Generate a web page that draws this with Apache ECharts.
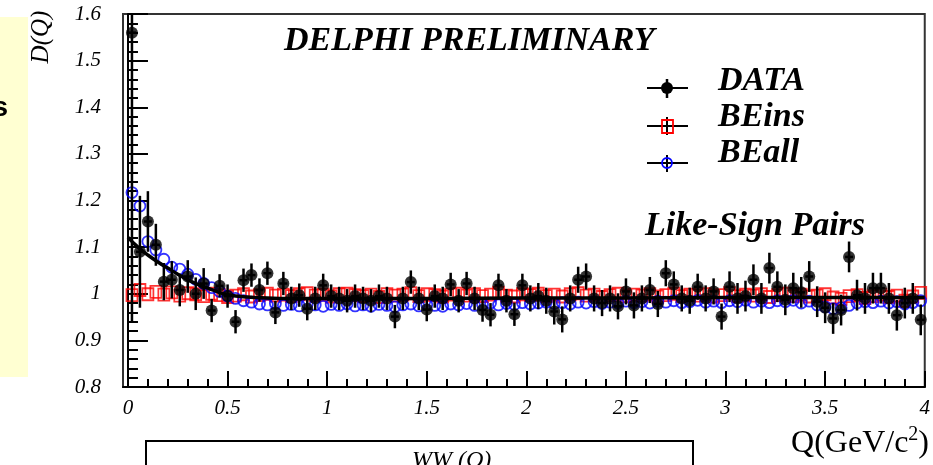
<!DOCTYPE html>
<html>
<head>
<meta charset="utf-8">
<script src="https://cdn.jsdelivr.net/npm/echarts@6/dist/echarts.min.js"></script>
<style>html,body{margin:0;padding:0;background:#fff;}#c{width:933px;height:465px;}</style>
</head>
<body>
<div id="c"></div>
<script>
// Bin centres (GeV/c^2)
const Q_BINS = [0.02,0.06,0.10,0.14,0.18,0.22,0.26,0.30,0.34,0.38,0.42,0.46,0.50,0.54,0.58,0.62,0.66,0.70,0.74,0.78,
0.82,0.86,0.90,0.94,0.98,1.02,1.06,1.10,1.14,1.18,1.22,1.26,1.30,1.34,1.38,1.42,1.46,1.50,1.54,1.58,
1.62,1.66,1.70,1.74,1.78,1.82,1.86,1.90,1.94,1.98,2.02,2.06,2.10,2.14,2.18,2.22,2.26,2.30,2.34,2.38,
2.42,2.46,2.50,2.54,2.58,2.62,2.66,2.70,2.74,2.78,2.82,2.86,2.90,2.94,2.98,3.02,3.06,3.10,3.14,3.18,
3.22,3.26,3.30,3.34,3.38,3.42,3.46,3.50,3.54,3.58,3.62,3.66,3.70,3.74,3.78,3.82,3.86,3.90,3.94,3.98];

const DATA = [1.56,1.09,1.155,1.105,1.026,1.03,1.008,1.037,1.0,1.022,0.964,1.017,0.995,0.94,1.029,1.04,1.008,1.044,0.96,1.022,
0.99,0.997,0.968,0.99,1.018,0.995,0.99,0.985,0.995,0.99,0.985,0.995,0.99,0.951,0.99,1.025,0.99,0.966,0.995,0.99,
1.02,0.985,1.022,0.99,0.965,0.955,1.018,0.985,0.956,1.018,0.99,0.995,0.985,0.962,0.945,0.99,1.03,1.037,0.99,0.98,
0.99,0.973,1.005,0.975,0.99,1.008,0.978,1.044,1.02,0.99,0.985,1.015,0.99,1.005,0.951,1.015,0.99,0.995,1.03,0.99,
1.055,1.015,0.987,1.012,1.003,1.037,0.983,0.97,0.947,0.965,1.079,0.997,0.99,1.012,1.012,0.99,0.954,0.98,0.99,0.944];

const DATA_ERR = [0.62,0.12,0.065,0.045,0.04,0.04,0.035,0.035,0.035,0.033,0.025,0.025,0.025,0.025,0.025,0.025,0.025,0.025,0.025,0.025,
0.025,0.025,0.025,0.025,0.025,0.025,0.025,0.025,0.025,0.025,0.025,0.025,0.025,0.025,0.025,0.025,0.025,0.025,0.025,0.025,
0.025,0.025,0.025,0.025,0.025,0.025,0.025,0.025,0.025,0.025,0.028,0.028,0.028,0.028,0.028,0.028,0.028,0.028,0.028,0.028,
0.028,0.028,0.028,0.028,0.028,0.028,0.028,0.028,0.028,0.028,0.028,0.028,0.028,0.028,0.028,0.033,0.033,0.033,0.033,0.033,
0.033,0.033,0.033,0.033,0.033,0.033,0.033,0.033,0.033,0.033,0.033,0.033,0.033,0.033,0.033,0.033,0.033,0.033,0.033,0.033];

const BEINS = [0.997,1.008,0.999,1.004,0.998,1.003,0.996,1.001,0.999,0.995,1.0,0.997,0.993,0.996,0.999,0.994,0.997,1.0,0.996,0.998,
0.995,0.999,1.001,0.996,0.998,0.994,0.999,1.0,0.997,0.995,0.998,0.993,0.999,0.996,0.998,1.001,0.995,0.999,0.997,0.994,
0.998,1.0,0.996,0.999,0.995,0.998,1.002,0.996,0.994,0.999,0.997,1.0,0.995,0.998,0.994,0.999,1.001,0.996,0.998,0.993,
0.997,1.0,0.995,0.998,0.996,0.999,0.994,0.997,1.0,0.995,0.998,0.996,0.999,0.994,0.997,1.001,0.995,0.998,0.996,0.999,
0.993,0.997,1.0,0.995,0.998,0.994,0.996,0.999,0.992,0.989,0.995,0.997,0.991,0.995,0.998,0.993,0.996,0.985,0.994,1.002];

const BEALL = [1.217,1.188,1.112,1.094,1.074,1.057,1.053,1.042,1.031,1.022,1.013,1.005,0.995,0.99,0.985,0.982,0.978,0.976,0.979,0.975,
0.977,0.974,0.978,0.976,0.973,0.977,0.975,0.978,0.974,0.976,0.973,0.977,0.975,0.972,0.976,0.978,0.974,0.977,0.975,0.973,
0.978,0.976,0.979,0.975,0.977,0.98,0.976,0.979,0.977,0.981,0.978,0.98,0.982,0.979,0.981,0.978,0.982,0.98,0.983,0.979,
0.982,0.98,0.984,0.981,0.983,0.98,0.984,0.982,0.985,0.981,0.983,0.986,0.982,0.984,0.981,0.985,0.983,0.986,0.982,0.984,
0.981,0.985,0.983,0.986,0.98,0.984,0.976,0.972,0.968,0.97,0.975,0.98,0.983,0.981,0.984,0.98,0.983,0.978,0.981,0.985];

const FIT_Q = [0,0.05,0.1,0.15,0.2,0.25,0.3,0.35,0.4,0.45,0.5,0.6,0.7,0.8,1.0,1.5,2,2.5,3,3.5,4];
const FIT_D = [1.121,1.10,1.083,1.068,1.055,1.042,1.03,1.02,1.012,1.004,0.998,0.993,0.991,0.99,0.99,0.99,0.991,0.991,0.992,0.992,0.992];

const X_MAJOR = [0,0.5,1,1.5,2,2.5,3,3.5,4];
const X_MINOR = [0.1,0.2,0.3,0.4,0.6,0.7,0.8,0.9,1.1,1.2,1.3,1.4,1.6,1.7,1.8,1.9,2.1,2.2,2.3,2.4,2.6,2.7,2.8,2.9,3.1,3.2,3.3,3.4,3.6,3.7,3.8,3.9];

const SERIF = '"Liberation Serif", "DejaVu Serif", serif';
const chart = echarts.init(document.getElementById('c'));

const pair = (arr) => Q_BINS.map((q, i) => [q, arr[i]]);
const errData = Q_BINS.map((q, i) => [q, DATA[i], DATA_ERR[i]]);
const fitData = FIT_Q.map((q, i) => [q, FIT_D[i]]);

const labelStyle = { color: '#000', fontFamily: SERIF, fontStyle: 'italic', fontSize: 21 };
const BIG = 'bold italic 34px ' + SERIF;

chart.setOption({
  animation: false,
  backgroundColor: '#fff',
  grid: { left: 123, right: 5, top: 14, bottom: 78, show: true, borderColor: '#333', borderWidth: 2 },
  xAxis: [{
    type: 'value', min: -0.025, max: 4, gridIndex: 0,
    axisLine: { show: true, lineStyle: { color: '#000', width: 2 } },
    axisTick: { show: true, inside: true, length: 16, customValues: X_MAJOR, lineStyle: { color: '#000', width: 2 } },
    axisLabel: Object.assign({ customValues: X_MAJOR, margin: 11 }, labelStyle),
    splitLine: { show: false }
  }, {
    type: 'value', min: -0.025, max: 4, gridIndex: 0, position: 'bottom',
    axisLine: { show: false },
    axisTick: { show: true, inside: true, length: 8, customValues: X_MINOR, lineStyle: { color: '#000', width: 2 } },
    axisLabel: { show: false },
    splitLine: { show: false }
  }],
  yAxis: {
    type: 'value', min: 0.8, max: 1.6, interval: 0.1,
    axisLine: { show: true, lineStyle: { color: '#000', width: 2 } },
    axisTick: { show: true, inside: true, length: 20, lineStyle: { color: '#000', width: 2 } },
    minorTick: { show: true, splitNumber: 5, length: 10, lineStyle: { color: '#000', width: 2 } },
    axisLabel: Object.assign({ margin: 22, formatter: (v) => String(Math.round(v * 10) / 10) }, labelStyle),
    splitLine: { show: false }
  },
  series: [
    {
      name: 'BEins', type: 'scatter', data: pair(BEINS), symbol: 'rect', symbolSize: [11, 12], z: 2,
      itemStyle: { color: 'rgba(0,0,0,0)', borderColor: '#ff0000', borderWidth: 1.8 }
    },
    {
      name: 'BEall', type: 'scatter', data: pair(BEALL), symbol: 'circle', symbolSize: 11, z: 3,
      itemStyle: { color: 'rgba(0,0,0,0)', borderColor: '#0000ff', borderWidth: 1.8 }
    },
    {
      name: 'fit', type: 'line', data: fitData, smooth: true, showSymbol: false, z: 4,
      lineStyle: { color: '#000', width: 3.5 }
    },
    {
      name: 'errors', type: 'custom', data: errData, clip: true, z: 5,
      renderItem: function (params, api) {
        const x = api.value(0), y = api.value(1), e = api.value(2);
        const t = api.coord([x, y + e]);
        const b = api.coord([x, y - e]);
        const l = api.coord([x - 0.02, y]);
        const r = api.coord([x + 0.02, y]);
        return {
          type: 'group', children: [
            { type: 'line', shape: { x1: t[0], y1: t[1], x2: b[0], y2: b[1] }, style: { stroke: '#000', lineWidth: 2.5 } },
            { type: 'line', shape: { x1: l[0], y1: l[1], x2: r[0], y2: r[1] }, style: { stroke: '#000', lineWidth: 2.5 } }
          ]
        };
      }
    },
    {
      name: 'DATA', type: 'scatter', data: pair(DATA), symbol: 'circle', symbolSize: 12, z: 6,
      itemStyle: { color: '#000' }
    }
  ],
  graphic: [
    { type: 'rect', z: -1, shape: { x: 0, y: 17, width: 28, height: 360 }, style: { fill: '#ffffd2' } },
    { type: 'text', style: { text: 's', x: 8, y: 108, font: 'bold 28px "Liberation Sans", Arial, sans-serif', fill: '#000', align: 'right', verticalAlign: 'middle' } },
    { type: 'text', x: 41, y: 37, rotation: Math.PI / 2, style: { text: 'D(Q)', x: 0, y: 0, font: 'italic 25px ' + SERIF, fill: '#000', align: 'center', verticalAlign: 'middle' } },
    { type: 'text', style: { text: 'DELPHI PRELIMINARY', x: 284, y: 41, font: BIG, fill: '#000', align: 'left', verticalAlign: 'middle' } },
    // legend
    { type: 'line', shape: { x1: 647, y1: 88, x2: 688, y2: 88 }, style: { stroke: '#000', lineWidth: 2 } },
    { type: 'line', shape: { x1: 667, y1: 79, x2: 667, y2: 98 }, style: { stroke: '#000', lineWidth: 2.5 } },
    { type: 'circle', shape: { cx: 667, cy: 88, r: 6 }, style: { fill: '#000' } },
    { type: 'line', shape: { x1: 647, y1: 126, x2: 688, y2: 126 }, style: { stroke: '#000', lineWidth: 2 } },
    { type: 'line', shape: { x1: 667, y1: 117, x2: 667, y2: 135 }, style: { stroke: '#000', lineWidth: 2 } },
    { type: 'rect', shape: { x: 662, y: 120, width: 11, height: 13 }, style: { fill: 'none', stroke: '#ff0000', lineWidth: 1.8 } },
    { type: 'line', shape: { x1: 647, y1: 163, x2: 688, y2: 163 }, style: { stroke: '#000', lineWidth: 2 } },
    { type: 'line', shape: { x1: 667, y1: 155, x2: 667, y2: 172 }, style: { stroke: '#000', lineWidth: 2 } },
    { type: 'circle', shape: { cx: 667, cy: 163, r: 5 }, style: { fill: 'none', stroke: '#0000ff', lineWidth: 1.8 } },
    { type: 'text', style: { text: 'DATA', x: 718, y: 81, font: BIG, fill: '#000', align: 'left', verticalAlign: 'middle' } },
    { type: 'text', style: { text: 'BEins', x: 718, y: 117, font: BIG, fill: '#000', align: 'left', verticalAlign: 'middle' } },
    { type: 'text', style: { text: 'BEall', x: 718, y: 153, font: BIG, fill: '#000', align: 'left', verticalAlign: 'middle' } },
    { type: 'text', style: { text: 'Like-Sign Pairs', x: 645, y: 226, font: BIG, fill: '#000', align: 'left', verticalAlign: 'middle' } },
    // x axis title
    { type: 'text', style: { text: '{a|Q(GeV/c}{s|2}{a|)}', x: 929, y: 444, align: 'right', verticalAlign: 'middle',
        rich: { a: { font: '32px ' + SERIF, fill: '#000' }, s: { font: '20px ' + SERIF, fill: '#000', padding: [0, 0, 18, 0] } } } },
    // lower box
    { type: 'rect', shape: { x: 146, y: 441, width: 547, height: 40 }, style: { fill: 'none', stroke: '#000', lineWidth: 2 } },
    { type: 'text', style: { text: 'WW (Q)', x: 412, y: 449, font: 'italic 24px ' + SERIF, fill: '#000', align: 'left', verticalAlign: 'top' } }
  ]
});
</script>
</body>
</html>
